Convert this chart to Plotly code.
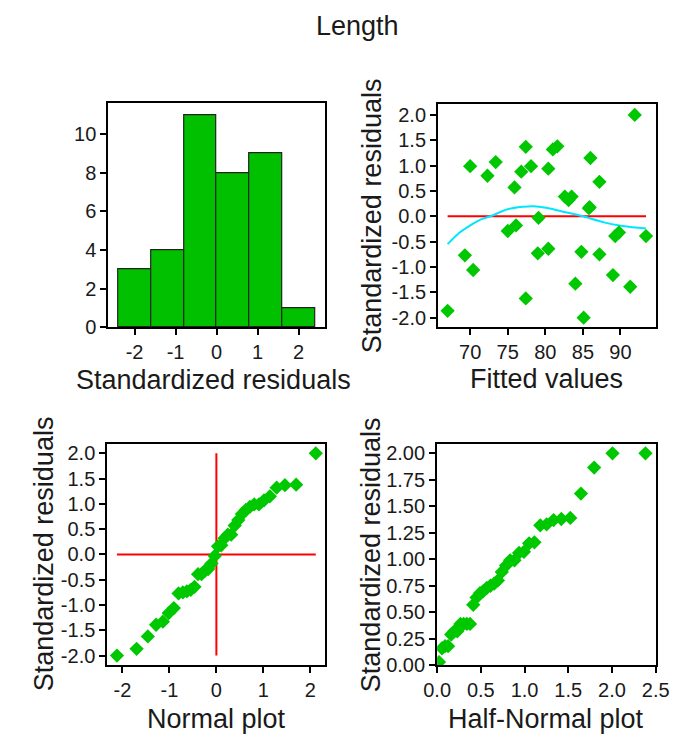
import plotly.graph_objects as go

# ---------------- data ----------------
hist_centers = [-2.0, -1.2, -0.4, 0.4, 1.2, 2.0]
hist_counts = [3, 4, 11, 8, 9, 1]
hist_width = 0.8

fitted = [67.0, 69.3, 70.0, 70.4, 72.3, 73.4, 75.0, 75.9, 76.1, 76.8, 77.4, 77.4,
          78.1, 79.1, 79.0, 80.4, 80.4, 81.0, 81.6, 82.6, 83.1, 83.5, 84.0, 84.8,
          85.1, 85.9, 86.0, 87.2, 87.2, 89.0, 89.3, 89.8, 91.3, 91.9, 93.4, 85.8]
std_resid = [-1.865, -0.77, 0.99, -1.06, 0.80, 1.07, -0.29, 0.57, -0.18, 0.88, 1.37, -1.62,
             0.99, -0.03, -0.73, 0.94, -0.64, 1.32, 1.38, 0.39, 0.32, 0.39, -1.33, -0.70,
             -2.00, 0.18, 1.15, 0.68, -0.75, -1.16, -0.39, -0.32, -1.39, 2.00, -0.39, 0.16]

smooth_x = [67.0, 68.6, 70.0, 71.6, 72.7, 75.0, 77.1, 78.4, 80.1, 82.7, 85.0, 87.8, 90.3, 93.4]
smooth_y = [-0.55, -0.32, -0.18, -0.05, 0.0, 0.14, 0.19, 0.20, 0.17, 0.08, 0.0, -0.12, -0.19, -0.24]

normal_q = [-2.115, -1.697, -1.458, -1.282, -1.138, -1.014, -0.905, -0.805, -0.713,
            -0.627, -0.545, -0.466, -0.390, -0.316, -0.244, -0.174, -0.104, -0.035,
            0.035, 0.104, 0.174, 0.244, 0.316, 0.390, 0.466, 0.545, 0.627,
            0.713, 0.805, 0.905, 1.014, 1.138, 1.282, 1.458, 1.697, 2.115]
halfnormal_q = [0.022, 0.056, 0.091, 0.126, 0.161, 0.196, 0.231, 0.267, 0.303,
                0.339, 0.376, 0.413, 0.451, 0.490, 0.529, 0.569, 0.610, 0.652,
                0.695, 0.740, 0.788, 0.835, 0.885, 0.937, 0.993, 1.052, 1.113,
                1.180, 1.253, 1.332, 1.421, 1.523, 1.645, 1.796, 2.006, 2.383]

hist_x_ticks = [-2, -1, 0, 1, 2]
hist_x_labels = ["-2", "-1", "0", "1", "2"]
hist_y_ticks = [0, 2, 4, 6, 8, 10]
hist_y_labels = ["0", "2", "4", "6", "8", "10"]
fit_x_ticks = [70, 75, 80, 85, 90]
fit_x_labels = ["70", "75", "80", "85", "90"]
res_ticks = [-2.0, -1.5, -1.0, -0.5, 0.0, 0.5, 1.0, 1.5, 2.0]
res_labels = ["-2.0", "-1.5", "-1.0", "-0.5", "0.0", "0.5", "1.0", "1.5", "2.0"]
norm_x_ticks = [-2, -1, 0, 1, 2]
norm_x_labels = ["-2", "-1", "0", "1", "2"]
half_x_ticks = [0.0, 0.5, 1.0, 1.5, 2.0, 2.5]
half_x_labels = ["0.0", "0.5", "1.0", "1.5", "2.0", "2.5"]
half_y_ticks = [0.0, 0.25, 0.5, 0.75, 1.0, 1.25, 1.5, 1.75, 2.0]
half_y_labels = ["0.00", "0.25", "0.50", "0.75", "1.00", "1.25", "1.50", "1.75", "2.00"]

# ---------------- figure ----------------
W, H = 678, 736
GREEN = "rgb(0,200,0)"
FONT = "Liberation Sans, Arial, sans-serif"
TICKSZ = 20
TITLESZ = 27

resid_sorted = sorted(std_resid)
abs_sorted = sorted(abs(r) for r in std_resid)

fig = go.Figure()
fig.add_trace(go.Bar(x=hist_centers, y=hist_counts, width=hist_width,
                     marker=dict(color="rgb(0,192,0)", line=dict(color="#222", width=1.2)),
                     xaxis="x", yaxis="y", showlegend=False))

fig.add_trace(go.Scatter(x=[min(fitted), max(fitted)], y=[0, 0], mode="lines",
                         line=dict(color="red", width=2), xaxis="x2", yaxis="y2", showlegend=False))
fig.add_trace(go.Scatter(x=smooth_x, y=smooth_y, mode="lines", line=dict(color="rgb(0,230,255)", width=2, shape="spline"),
                         xaxis="x2", yaxis="y2", showlegend=False))
fig.add_trace(go.Scatter(x=fitted, y=std_resid, mode="markers",
                         marker=dict(symbol="diamond", size=11, color=GREEN),
                         xaxis="x2", yaxis="y2", showlegend=False))

fig.add_trace(go.Scatter(x=[min(normal_q), max(normal_q)], y=[0, 0], mode="lines",
                         line=dict(color="red", width=2), xaxis="x3", yaxis="y3", showlegend=False))
fig.add_trace(go.Scatter(x=[0, 0], y=[min(std_resid), max(std_resid)], mode="lines",
                         line=dict(color="red", width=2), xaxis="x3", yaxis="y3", showlegend=False))
fig.add_trace(go.Scatter(x=normal_q, y=resid_sorted, mode="markers",
                         marker=dict(symbol="diamond", size=11, color=GREEN),
                         xaxis="x3", yaxis="y3", showlegend=False))

fig.add_trace(go.Scatter(x=halfnormal_q, y=abs_sorted, mode="markers",
                         marker=dict(symbol="diamond", size=11, color=GREEN),
                         xaxis="x4", yaxis="y4", showlegend=False))


def ax(domain, rng, tv, tt, anchor):
    return dict(domain=domain, range=rng, tickvals=tv, ticktext=tt, anchor=anchor,
                showline=True, mirror=True, linecolor="black", linewidth=2,
                ticks="outside", ticklen=6, tickwidth=2, tickcolor="black",
                showgrid=False, zeroline=False,
                tickfont=dict(size=TICKSZ, color="#1a1a1a", family=FONT))

px = lambda a, b: [a / W, b / W]
py = lambda top, bot: [1 - bot / H, 1 - top / H]

fig.update_layout(
    width=W, height=H, margin=dict(l=0, r=0, t=0, b=0),
    paper_bgcolor="white", plot_bgcolor="white",
    font=dict(family=FONT, color="#1a1a1a"),
    bargap=0,
    xaxis=ax(px(90, 316), [-2.64, 2.64], hist_x_ticks, hist_x_labels, "y"),
    yaxis=ax(py(95, 323), [0, 11.6], hist_y_ticks, hist_y_labels, "x"),
    xaxis2=ax(px(434, 661), [65.73, 94.69], fit_x_ticks, fit_x_labels, "y2"),
    yaxis2=ax(py(96, 323), [-2.19, 2.21], res_ticks, res_labels, "x2"),
    xaxis3=ax(px(89, 316), [-2.32, 2.31], norm_x_ticks, norm_x_labels, "y3"),
    yaxis3=ax(py(442, 667), [-2.19, 2.18], res_ticks, res_labels, "x3"),
    xaxis4=ax(px(433, 661), [0, 2.5], half_x_ticks, half_x_labels, "y4"),
    yaxis4=ax(py(442, 667), [0, 2.086], half_y_ticks, half_y_labels, "x4"),
)

annots = [
    ("Length", 350, 16, 0),
    ("Standardized residuals", 200, 377, 0),
    ("Fitted values", 547, 376, 0),
    ("Normal plot", 203, 722, 0),
    ("Half-Normal plot", 547, 722, 0),
    ("Standardized residuals", 365, 209, -90),
    ("Standardized residuals", 23, 554, -90),
    ("Standardized residuals", 364, 554, -90),
]
for text, x, y, ang in annots:
    fig.add_annotation(text=text, x=x / W, y=1 - y / H, xref="paper", yref="paper",
                       xanchor="center", yanchor="middle", showarrow=False, textangle=ang,
                       font=dict(size=TITLESZ, family=FONT, color="#1a1a1a"))

fig.write_html("out.html")
